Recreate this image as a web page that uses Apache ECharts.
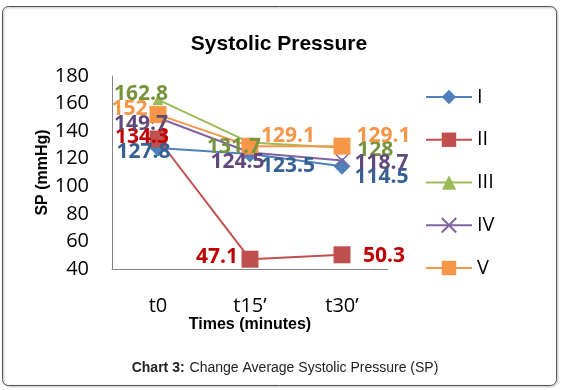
<!DOCTYPE html>
<html>
<head>
<meta charset="utf-8">
<script src="https://cdn.jsdelivr.net/npm/echarts@6/dist/echarts.min.js"></script>
<style>
  html, body { margin: 0; padding: 0; background: #fff; }
  #chart { width: 564px; height: 390px; }
</style>
</head>
<body>
<div id="chart"></div>
<script>
// data
const categories = ['t0', 't15’', 't30’']
const valuesI = [127.8, 123.5, 114.5]
const valuesII = [134.3, 47.1, 50.3]
const valuesIII = [162.8, 131.7, 128]
const valuesIV = [149.7, 124.5, 118.7]
const valuesV = [152, 129.1, 129.1]
const yMin = 40
const yMax = 180
const yStep = 20

// label nudges (px) so they sit where the original put them
const offsI = [[-14.5, 3.7], [38, 11.8], [39.5, 10.4]]
const offsII = [[-16, -2.3], [-33, -1.9], [42, 1.2]]
const offsIII = [[-17, -5.4], [-16, 4], [33.3, 2.3]]
const offsIV = [[-17, 6], [-12.5, 9.2], [39.5, 2.8]]
const offsV = [[-28.5, -5.6], [38, -10.5], [41.5, -10.5]]

const calibri = "'Open Sans', sans-serif"
const arial = "'Liberation Sans', Arial, sans-serif"
const crossPath = 'path://M0,0L10,10M10,0L0,10'

function makeSeries(name, values, offs, color, labelColor, symbol, symbolSize, extraItem) {
  return {
    name: name,
    type: 'line',
    symbol: symbol,
    symbolSize: symbolSize,
    lineStyle: { color: color, width: 2 },
    itemStyle: Object.assign({ color: color }, extraItem || {}),
    label: {
      show: true,
      position: 'inside',
      color: labelColor,
      fontFamily: calibri,
      fontWeight: 'bold',
      fontSize: 21,
    },
    emphasis: { disabled: true },
    data: values.map((v, i) => ({ value: v, label: { offset: offs[i] } })),
  }
}

const chart = echarts.init(document.getElementById('chart'))
const option = {
  animation: false,
  title: [
    {
      text: 'Systolic Pressure',
      left: 274,
      top: 29,
      textAlign: 'center',
      textStyle: { fontFamily: arial, fontWeight: 'bold', fontSize: 21, color: '#000' },
    },
    {
      text: '{b|Chart 3:} {r|Change Average Systolic Pressure (SP)}',
      left: 280,
      top: 354,
      textAlign: 'center',
      textStyle: {
        fontWeight: 'normal',
        rich: {
          b: { fontFamily: arial, fontWeight: 'bold', fontSize: 14, color: '#222' },
          r: { fontFamily: arial, fontWeight: 'normal', fontSize: 14, color: '#222' },
        },
      },
    },
  ],
  graphic: [
    {
      type: 'rect',
      shape: { x: 2.5, y: 6.5, width: 554, height: 379, r: 6 },
      style: {
        fill: 'none',
        stroke: '#555',
        lineWidth: 1,
        shadowBlur: 2,
        shadowOffsetX: 1,
        shadowOffsetY: 1,
        shadowColor: 'rgba(0,0,0,0.35)',
      },
      silent: true,
      z: -1,
    },
  ],
  legend: {
    orient: 'vertical',
    left: 420,
    top: 82,
    itemWidth: 46,
    itemHeight: 18,
    itemGap: 22.75,
    textStyle: { fontFamily: calibri, fontSize: 20, color: '#000' },
    data: ['I', 'II', 'III', 'IV', 'V'],
  },
  grid: { left: 112, right: 176, top: 76, bottom: 121, containLabel: false },
  xAxis: {
    type: 'category',
    data: categories,
    boundaryGap: true,
    name: 'Times (minutes)',
    nameLocation: 'middle',
    nameGap: 46,
    nameTextStyle: { fontFamily: arial, fontWeight: 'bold', fontSize: 16, color: '#000' },
    axisLine: { lineStyle: { color: '#868686', width: 1 } },
    axisTick: { show: false },
    axisLabel: { fontFamily: calibri, fontSize: 20, color: '#000', margin: 27 },
  },
  yAxis: {
    type: 'value',
    min: yMin,
    max: yMax,
    interval: yStep,
    name: 'SP (mmHg)',
    nameLocation: 'middle',
    nameRotate: 90,
    nameGap: 50,
    nameTextStyle: { fontFamily: arial, fontWeight: 'bold', fontSize: 16, color: '#000' },
    axisLine: { show: true, lineStyle: { color: '#868686', width: 1 } },
    axisTick: { show: false },
    splitLine: { show: false },
    axisLabel: { fontFamily: calibri, fontSize: 20, color: '#000', margin: 23 },
  },
  series: [
    makeSeries('I', valuesI, offsI, '#4F81BD', '#376092', 'diamond', 17),
    makeSeries('II', valuesII, offsII, '#C0504D', '#C00000', 'rect', 17),
    makeSeries('III', valuesIII, offsIII, '#9BBB59', '#77933C', 'triangle', 11),
    makeSeries('IV', valuesIV, offsIV, '#8064A2', '#604A7B', crossPath, 12,
      { color: 'rgba(0,0,0,0)', borderColor: '#8064A2', borderWidth: 1.5 }),
    makeSeries('V', valuesV, offsV, '#F79646', '#F79646', 'rect', 17),
  ],
}
chart.setOption(option)
</script>
</body>
</html>
